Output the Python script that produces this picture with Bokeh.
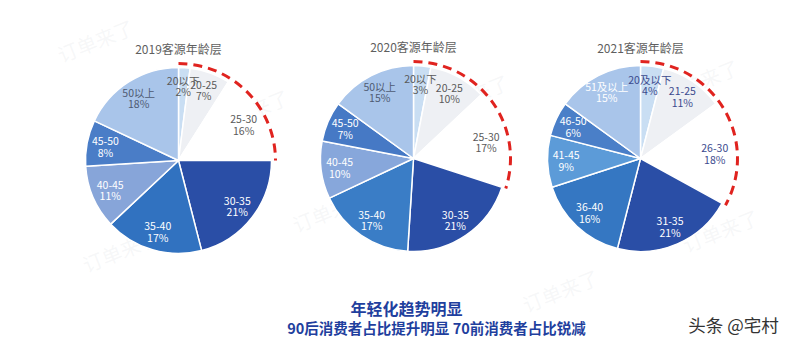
import math

from bokeh.core.properties import value
from bokeh.embed import file_html
from bokeh.models import Range1d
from bokeh.plotting import figure
from bokeh.resources import INLINE

# Age-group share of guests (percent), one pie per year
labels_2019 = ["20以下", "20-25", "25-30", "30-35", "35-40", "40-45", "45-50", "50以上"]
share_2019 = [2, 7, 16, 21, 17, 11, 8, 18]

labels_2020 = ["20以下", "20-25", "25-30", "30-35", "35-40", "40-45", "45-50", "50以上"]
share_2020 = [3, 10, 17, 21, 17, 10, 7, 15]

labels_2021 = ["20及以下", "21-25", "26-30", "31-35", "36-40", "41-45", "46-50", "51及以上"]
share_2021 = [4, 11, 18, 21, 16, 9, 6, 15]

titles = ["2019客源年龄层", "2020客源年龄层", "2021客源年龄层"]

# number of youngest groups wrapped by the red dashed arc
young_groups = 3

headline = "年轻化趋势明显"
subline = "90后消费者占比提升明显 70前消费者占比锐减"
credit = "头条 @宅村"
watermark = "订单来了"

# ---- styling ----
W, H = 800, 347
FONT = value("Noto Sans CJK SC")

colors_2019 = ["#c9def3", "#eef0f4", "#ffffff", "#2a4ea6", "#3172c0", "#87a5d9", "#4a7dc7", "#a9c5ea"]
colors_2020 = ["#c9def3", "#eef0f4", "#ffffff", "#2a4ea6", "#3a7dc6", "#87a7db", "#4679c5", "#a9c5ea"]
colors_2021 = ["#c9def3", "#eef0f4", "#ffffff", "#2a4ea6", "#3577c2", "#5c9bd8", "#4a7fc8", "#a9c5ea"]

grey_lbl = "#5a5a5a"
blue_lbl = "#3c4a8e"
text_2019 = [grey_lbl, grey_lbl, grey_lbl, "white", "white", "white", "white", "#4e5a72"]
text_2020 = [grey_lbl, grey_lbl, grey_lbl, "white", "white", "white", "white", "#4e5a72"]
text_2021 = [blue_lbl, blue_lbl, blue_lbl, "white", "white", "white", "white", "white"]

pies = [
    dict(labels=labels_2019, share=share_2019, colors=colors_2019, tcol=text_2019, cx=178, cy=160, title_y=48),
    dict(labels=labels_2020, share=share_2020, colors=colors_2020, tcol=text_2020, cx=413, cy=158, title_y=46),
    dict(labels=labels_2021, share=share_2021, colors=colors_2021, tcol=text_2021, cx=640, cy=158, title_y=47),
]
R = 93


def sy(y):
    """screen-style y (top down) to data y (bottom up)"""
    return H - y


p = figure(
    width=W, height=H,
    x_range=Range1d(0, W), y_range=Range1d(0, H),
    output_backend="svg", toolbar_location=None,
    min_border=0, outline_line_color=None,
)
p.axis.visible = False
p.grid.visible = False
p.background_fill_color = "white"
p.border_fill_color = "white"

# faint diagonal watermarks
wm_pos = [(95, 40), (250, 110), (470, 95), (700, 80), (120, 250), (560, 290), (720, 230), (330, 210)]
p.text(
    x=[x for x, _ in wm_pos], y=[sy(y) for _, y in wm_pos], text=[watermark] * len(wm_pos),
    text_font=FONT, text_font_size="20px", text_color="#c8ccd4", text_alpha=0.16,
    text_align="center", text_baseline="middle", angle=math.radians(22),
)

for i, pie in enumerate(pies):
    share = pie["share"]
    total = float(sum(share))
    cum = [0.0]
    for s in share:
        cum.append(cum[-1] + s / total)
    starts = [math.pi / 2 - 2 * math.pi * c for c in cum[:-1]]
    ends = [math.pi / 2 - 2 * math.pi * c for c in cum[1:]]
    cx, cy = pie["cx"], sy(pie["cy"])

    p.wedge(
        x=cx, y=cy, radius=R, start_angle=starts, end_angle=ends, direction="clock",
        fill_color=pie["colors"], line_color="white", line_width=1.5,
    )

    # red dashed arc around the young groups
    p.arc(
        x=cx, y=cy, radius=R + 4, start_angle=math.pi / 2,
        end_angle=math.pi / 2 - 2 * math.pi * cum[young_groups], direction="clock",
        line_color="#e0231f", line_width=3, line_dash="9 6",
    )

    # labels along each slice's mid-angle
    mids = [(a + b) / 2 for a, b in zip(starts, ends)]
    d = 0.8 * R
    lx = [cx + d * math.cos(m) for m in mids]
    ly = [cy + d * math.sin(m) for m in mids]
    p.text(
        x=lx, y=[y + 5.5 for y in ly], text=pie["labels"], text_color=pie["tcol"],
        text_font=FONT, text_font_size="10.5px", text_align="center", text_baseline="middle",
    )
    p.text(
        x=lx, y=[y - 5.5 for y in ly], text=[f"{s}%" for s in share], text_color=pie["tcol"],
        text_font=FONT, text_font_size="10.5px", text_align="center", text_baseline="middle",
    )

    p.text(
        x=[cx], y=[sy(pie["title_y"])], text=[titles[i]],
        text_font=FONT, text_font_size="12px", text_color="#5f5f5f",
        text_align="center", text_baseline="middle",
    )

p.text(
    x=[406], y=[sy(307)], text=[headline], text_font=FONT, text_font_size="16px",
    text_font_style="bold", text_color="#1f3f9e", text_align="center", text_baseline="middle",
)
p.text(
    x=[436], y=[sy(327)], text=[subline], text_font=FONT, text_font_size="14.5px",
    text_font_style="bold", text_color="#1f3f9e", text_align="center", text_baseline="middle",
)
p.text(
    x=[733], y=[sy(324)], text=[credit], text_font=FONT, text_font_size="17.5px",
    text_color="#333333", text_align="center", text_baseline="middle",
)

open("out.html", "w").write(file_html(p, INLINE))
